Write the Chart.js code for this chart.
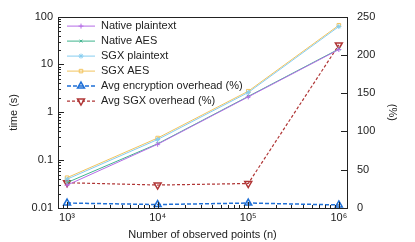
<!DOCTYPE html>
<html>
<head>
<meta charset="utf-8">
<script src="https://cdn.jsdelivr.net/npm/chart.js@4.4.1/dist/chart.umd.min.js"></script>
<style>
  html, body { margin: 0; padding: 0; background: #fff; }
  #wrap { width: 415px; height: 242px; }
</style>
</head>
<body>
<div id="wrap"><canvas id="c" width="415" height="242"></canvas></div>
<script>
// observed points n
const points = [1e3, 1e4, 1e5, 1e6];
const xTickLabels = ['10\u00B3', '10\u2074', '10\u2075', '10\u2076'];

// time (s)
const nativePlain = [0.030, 0.215, 2.1, 20.5];
const nativeAES = [0.034, 0.22, 2.15, 21];
const sgxPlain = [0.040, 0.27, 2.6, 62];
const sgxAES = [0.043, 0.29, 2.76, 66];

// overhead (%)
const encOverhead = [6.5, 4.5, 6.5, 4];
const sgxOverhead = [33, 30, 32, 213];

const FONT = "'Liberation Sans', Arial, sans-serif";
Chart.defaults.font.family = FONT;
Chart.defaults.font.size = 11;
Chart.defaults.color = '#222';

function pts(vals) {
    return vals.map((v, i) => ({ x: points[i], y: v }));
}

const series = [
    { label: 'Native plaintext', data: nativePlain, color: '#b46ce6', style: 'cross', axis: 'y', dash: [], r: 2.5, hollow: false },
    { label: 'Native AES', data: nativeAES, color: '#3fb48e', style: 'crossRot', axis: 'y', dash: [], r: 2, hollow: false },
    { label: 'SGX plaintext', data: sgxPlain, color: '#86cdf0', style: 'star', axis: 'y', dash: [], r: 2.5, hollow: false },
    { label: 'SGX AES', data: sgxAES, color: '#f2c45e', style: 'rect', axis: 'y', dash: [], r: 2.5, hollow: true },
    { label: 'Avg encryption overhead (%)', data: encOverhead, color: '#1e6fd6', style: 'triangle', axis: 'y2', dash: [4, 2], r: 4, rot: 0, width: 1.5, hollow: true },
    { label: 'Avg SGX overhead (%)', data: sgxOverhead, color: '#b03636', style: 'triangle', axis: 'y2', dash: [3, 2], r: 4, rot: 180, width: 1.2, hollow: true }
];

// inward gnuplot-like ticks and box border
const boxTicks = {
    id: 'boxTicks',
    afterDraw(chart) {
        const ctx = chart.ctx;
        const a = chart.chartArea;
        const x = chart.scales.x, y = chart.scales.y, y2 = chart.scales.y2;
        ctx.save();
        ctx.strokeStyle = '#222';
        ctx.lineWidth = 1;
        ctx.beginPath();
        for (let e = 2; e <= 6; e++) {
            for (let m = 1; m <= 9; m++) {
                const v = m * Math.pow(10, e);
                if (v < x.min || v > x.max) continue;
                const px = Math.round(x.getPixelForValue(v)) + 0.5;
                const len = m === 1 ? 6 : 3;
                ctx.moveTo(px, a.bottom);
                ctx.lineTo(px, a.bottom - len);
            }
        }
        for (let e = -2; e <= 2; e++) {
            for (let m = 1; m <= 9; m++) {
                const v = m * Math.pow(10, e);
                if (v < y.min || v > y.max) continue;
                const py = Math.round(y.getPixelForValue(v)) + 0.5;
                const len = m === 1 ? 6 : 3;
                ctx.moveTo(a.left, py);
                ctx.lineTo(a.left + len, py);
            }
        }
        for (let v = 0; v <= 250; v += 50) {
            const py = Math.round(y2.getPixelForValue(v)) + 0.5;
            ctx.moveTo(a.right, py);
            ctx.lineTo(a.right - 6, py);
        }
        ctx.stroke();
        ctx.strokeRect(Math.round(a.left) + 0.5, Math.round(a.top) + 0.5,
            Math.round(a.right - a.left), Math.round(a.bottom - a.top));
        ctx.restore();
    }
};

// legend drawn inside the plot, line sample + marker
const innerLegend = {
    id: 'innerLegend',
    afterDraw(chart) {
        const ctx = chart.ctx;
        const a = chart.chartArea;
        ctx.save();
        chart.data.datasets.forEach((ds, i) => {
            const yy = a.top + 9.5 + i * 15;
            const x0 = a.left + 9, x1 = a.left + 37;
            ctx.strokeStyle = ds.borderColor;
            ctx.lineWidth = ds.borderWidth;
            ctx.setLineDash(ds.borderDash);
            ctx.beginPath();
            ctx.moveTo(x0, yy);
            ctx.lineTo(x1, yy);
            ctx.stroke();
            ctx.setLineDash([]);
            ctx.fillStyle = ds.pointBackgroundColor;
            ctx.strokeStyle = ds.pointBorderColor;
            ctx.lineWidth = ds.pointBorderWidth;
            Chart.helpers.drawPoint(ctx, {
                pointStyle: ds.pointStyle,
                radius: ds.pointRadius,
                rotation: ds.pointRotation,
                borderWidth: ds.pointBorderWidth
            }, (x0 + x1) / 2, yy);
            ctx.fillStyle = '#222';
            ctx.font = '11px ' + FONT;
            ctx.textBaseline = 'middle';
            ctx.fillText(ds.label, a.left + 43, yy);
        });
        ctx.restore();
    }
};

const datasets = series.map(s => ({
    label: s.label,
    data: pts(s.data),
    yAxisID: s.axis,
    borderColor: s.color,
    borderWidth: s.width || 1,
    borderDash: s.dash,
    pointStyle: s.style,
    pointRadius: s.r,
    pointRotation: s.rot || 0,
    pointBorderColor: s.color,
    pointBackgroundColor: s.hollow ? 'rgba(255,255,255,0)' : s.color,
    pointBorderWidth: s.axis === 'y2' ? 1.5 : 1,
    fill: false,
    tension: 0
}));

new Chart(document.getElementById('c').getContext('2d'), {
    type: 'line',
    data: { datasets: datasets },
    options: {
        responsive: false,
        animation: false,
        layout: { padding: { top: 13, left: 0, right: 0, bottom: 0 } },
        plugins: { legend: { display: false }, tooltip: { enabled: false } },
        scales: {
            x: {
                type: 'logarithmic',
                min: Math.pow(10, 2.9),
                max: Math.pow(10, 6.09),
                afterBuildTicks: (s) => { s.ticks = points.map(v => ({ value: v })); },
                afterFit: (s) => { s.height = 34; },
                ticks: {
                    autoSkip: false, maxRotation: 0, padding: 3,
                    callback: (v) => xTickLabels[points.indexOf(v)]
                },
                grid: { drawOnChartArea: false, drawTicks: false },
                border: { display: false },
                title: { display: true, text: 'Number of observed points (n)', padding: { top: 1, bottom: 0 } }
            },
            y: {
                type: 'logarithmic',
                position: 'left',
                min: 0.01,
                max: 100,
                afterBuildTicks: (s) => { s.ticks = [0.01, 0.1, 1, 10, 100].map(v => ({ value: v })); },
                afterFit: (s) => { s.width = 58; },
                ticks: { padding: 5, callback: (v) => String(v) },
                grid: { drawOnChartArea: false, drawTicks: false },
                border: { display: false },
                title: { display: true, text: 'time (s)', padding: { top: 7, bottom: 0 } }
            },
            y2: {
                type: 'linear',
                position: 'right',
                min: 0,
                max: 250,
                afterFit: (s) => { s.width = 68; },
                ticks: { stepSize: 50, padding: 10 },
                grid: { drawOnChartArea: false, drawTicks: false },
                border: { display: false },
                title: { display: true, text: '(%)', padding: { top: 16, bottom: 0 } }
            }
        }
    },
    plugins: [boxTicks, innerLegend]
});
</script>
</body>
</html>
